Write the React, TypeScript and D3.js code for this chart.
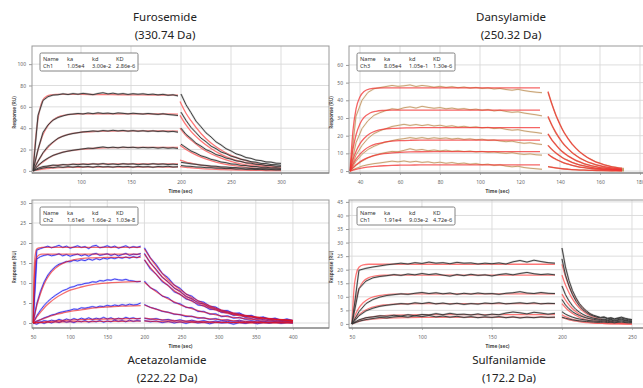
import * as d3 from "d3";
import { useEffect, useRef } from "react";

const WIDTH = 643;
const HEIGHT = 388;

const compounds = ["Furosemide", "Dansylamide", "Acetazolamide", "Sulfanilamide"];
const masses = ["(330.74 Da)", "(250.32 Da)", "(222.22 Da)", "(172.2 Da)"];
const legendHeader = ["Name", "ka", "kd", "KD"];
const legendRows = [
  ["Ch1", "1.05e4", "3.00e-2", "2.86e-6"],
  ["Ch3", "8.05e4", "1.05e-1", "1.30e-6"],
  ["Ch2", "1.61e6", "1.66e-2", "1.03e-8"],
  ["Ch1", "1.91e4", "9.03e-2", "4.72e-6"],
];

// tick labels
const furoXTicks = [100, 150, 200, 250, 300];
const furoYTicks = [0, 20, 40, 60, 80, 100];
const dansXTicks = [40, 60, 80, 100, 120, 140, 160, 180];
const dansYTicks = [0, 10, 20, 30, 40, 50, 60];
const acetXTicks = [50, 100, 150, 200, 250, 300, 350, 400];
const acetYTicks = [0, 5, 10, 15, 20, 25, 30];
const sulfXTicks = [50, 100, 150, 200, 250];
const sulfYTicks = [0, 5, 10, 15, 20, 25, 30, 35, 40, 45];

// ---------- Furosemide ----------
const furoFitAT = [52, 54, 56, 58, 60, 62, 66, 70, 75, 80, 90, 100, 115, 130, 160, 197];
const furoFitA = [
  [0, 24, 42, 54, 62, 66.5, 70, 71.2, 71.6, 71.7, 71.7, 71.6, 71.5, 71.4, 71.2, 71],
  [0, 8, 16, 23, 29, 34, 41, 46, 49.5, 51.5, 53, 53.4, 53.5, 53.5, 53.4, 53.2],
  [0, 4, 7.5, 10.5, 13.5, 16.5, 21, 25, 29, 31.8, 34.8, 36.2, 37, 37.3, 37.4, 37.3],
  [0, 2, 3.8, 5.4, 7, 8.4, 11, 13.2, 15.4, 17, 19, 20.2, 21.2, 21.7, 22, 22],
  [0, 0.8, 1.5, 2.1, 2.7, 3.2, 4, 4.6, 5.2, 5.6, 6.1, 6.3, 6.5, 6.5, 6.5, 6.5],
  [0, 0.4, 0.8, 1.1, 1.4, 1.7, 2.2, 2.5, 2.8, 3, 3.3, 3.4, 3.5, 3.5, 3.5, 3.5],
];
const furoFitDT = [199, 205, 210, 220, 230, 240, 250, 260, 270, 280, 290, 300];
const furoFitD = [
  [65, 54, 47, 35, 26, 19.5, 14.5, 11, 8.2, 6, 4.5, 3.3],
  [52, 43, 37, 28, 21, 15.5, 11.5, 8.6, 6.4, 4.8, 3.5, 2.6],
  [40, 33, 29, 21.5, 16, 12, 9, 6.6, 4.9, 3.7, 2.7, 2],
  [24, 20, 17.3, 12.8, 9.5, 7, 5.3, 3.9, 2.9, 2.2, 1.6, 1.2],
  [10, 8.3, 7.2, 5.3, 4, 2.9, 2.2, 1.6, 1.2, 0.9, 0.7, 0.5],
  [4, 3.3, 2.9, 2.1, 1.6, 1.2, 0.9, 0.7, 0.5, 0.4, 0.3, 0.2],
];
const furoObsAT = d3.range(52, 198, 5);
const furoObsA = [
  [0, 52, 66, 69.5, 71, 71.3, 72.2, 71.5, 72.4, 71.8, 72.6, 72, 71.4, 72.5, 73.2, 72.1, 72.8, 71.9, 72.4, 71.6, 72.3, 71.8, 72.2, 71.5, 71.9, 71.2, 71.7, 70.8, 71.3, 70.2],
  [0, 20, 36, 43, 47.5, 50, 51.5, 52.8, 53.2, 53.8, 53.3, 54.2, 53.6, 54.4, 53.8, 54.1, 53.5, 54.3, 53.9, 53.4, 54, 53.6, 53.2, 53.8, 53.3, 52.9, 53.5, 52.8, 52.4, 51.8],
  [0, 9, 17, 23, 27, 30.5, 32.5, 34, 35, 35.8, 36.5, 36.9, 37.4, 37, 37.8, 37.3, 38, 37.4, 37.9, 37.2, 37.7, 37.1, 37.6, 37, 37.5, 36.9, 37.3, 36.6, 37, 36.2],
  [0, 5, 9, 12, 14.5, 16, 17.5, 18.5, 19.3, 20, 20.6, 21.3, 21, 21.8, 22.4, 21.7, 22.2, 21.6, 22.3, 21.8, 22.1, 21.5, 22, 21.6, 21.9, 21.3, 21.8, 21.2, 21.6, 21],
  [0, 2.5, 4, 4.6, 5.4, 5.1, 5.9, 5.5, 6.3, 5.8, 6.4, 5.9, 6.6, 6.1, 6.8, 6, 6.5, 5.9, 6.7, 6.2, 6.6, 5.8, 6.4, 6, 6.7, 6.1, 6.5, 5.9, 6.3, 5.8],
  [0, 1.5, 2.6, 3.4, 3, 3.8, 3.3, 4, 3.5, 4.2, 3.6, 4.1, 3.4, 4.3, 3.7, 4, 3.5, 4.2, 3.8, 4.1, 3.5, 4.2, 3.7, 4, 3.4, 4.1, 3.8, 4.3, 3.6, 3.9],
];
const furoObsDT = d3.range(200, 301, 5);
const furoObsD = [
  [72, 62, 54.5, 46.6, 41.3, 35.6, 31.8, 27.2, 24.3, 20.8, 18.7, 16, 14.6, 12.5, 11.7, 10.1, 9.6, 8.4, 8.2, 7.2, 7],
  [55, 47.3, 40.7, 35.8, 30.7, 27.3, 23.2, 20.8, 17.7, 16.1, 13.8, 12.5, 10.8, 10, 8.6, 8.1, 7, 6.8, 5.9, 5.8, 5.2],
  [40, 34.2, 30.3, 25.9, 23.2, 19.9, 18, 15.3, 14, 12, 11, 9.4, 8.8, 7.5, 7.2, 6.1, 5.9, 5, 5, 4.3, 4.2],
  [25, 21.8, 18.6, 16.6, 14.1, 12.7, 10.8, 9.8, 8.3, 7.7, 6.5, 6.2, 5.1, 5, 4.1, 4.1, 3.3, 3.4, 2.7, 2.9, 2.4],
  [8, 7.3, 6.6, 6.1, 5.4, 5.1, 4.5, 4.3, 3.7, 3.6, 3.1, 3.1, 2.6, 2.7, 2.2, 2.3, 1.9, 2, 1.6, 1.8, 1.5],
  [5, 4.4, 4.2, 3.6, 3.5, 3, 3, 2.5, 2.5, 2.1, 2.2, 1.7, 1.9, 1.4, 1.6, 1.2, 1.4, 1, 1.2, 0.9, 1],
];

// ---------- Dansylamide ----------
const dansFitAT = [35, 36.5, 38, 40, 42, 45, 48, 52, 56, 60, 65, 70, 80, 90, 110, 130];
const dansFitA = [
  [0, 23, 35, 42, 45, 46.5, 46.9, 47, 47, 47, 47, 47, 47, 47, 47, 47],
  [0, 12.4, 20.4, 26.8, 30.3, 32.8, 33.8, 34.3, 34.5, 34.5, 34.5, 34.5, 34.5, 34.5, 34.5, 34.5],
  [0, 6.4, 11, 15.5, 18.4, 21.2, 22.7, 23.7, 24.1, 24.3, 24.4, 24.5, 24.5, 24.5, 24.5, 24.5],
  [0, 3.7, 6.7, 9.6, 11.8, 14, 15.3, 16.3, 16.9, 17.2, 17.4, 17.5, 17.5, 17.5, 17.5, 17.5],
  [0, 2, 3.5, 5.3, 6.6, 8, 9, 9.8, 10.3, 10.6, 10.8, 10.9, 11, 11, 11, 11],
  [0, 0.56, 1, 1.5, 1.9, 2.4, 2.7, 3, 3.2, 3.3, 3.4, 3.45, 3.5, 3.5, 3.5, 3.5],
];
const dansFitDT = [134, 136, 138, 141, 144, 148, 152, 156, 160, 165, 171];
const dansFitD = [
  [45, 37.6, 31.5, 23.9, 18.4, 12.8, 8.9, 6.2, 4.3, 2.7, 1.6],
  [31, 25.9, 21.7, 16.5, 12.7, 8.8, 6.1, 4.3, 3, 1.9, 1.1],
  [21, 17.5, 14.7, 11.1, 8.6, 6, 4.2, 2.9, 2, 1.3, 0.8],
  [14.5, 12.1, 10.2, 7.7, 5.9, 4.1, 2.9, 2, 1.4, 0.9, 0.5],
  [9.5, 7.9, 6.7, 5, 3.9, 2.7, 1.9, 1.3, 0.9, 0.6, 0.3],
  [2.5, 2.1, 1.75, 1.3, 1, 0.7, 0.5, 0.35, 0.24, 0.15, 0.09],
];
const dansObsAT = d3.range(35, 132, 3);
const dansObsA = [
  [0, 31, 40, 44.5, 46.5, 47.2, 47.8, 48.4, 47.9, 48.2, 48.7, 47.8, 48.4, 48, 47.4, 47.9, 47.3, 47.7, 47.1, 47.5, 46.9, 47.3, 46.7, 47, 46.4, 46.7, 46.1, 45.7, 46.2, 45.5, 45, 44.6, 44.3],
  [0, 16, 24, 28.5, 31.5, 33, 34.2, 35.2, 34.8, 35.8, 36.3, 35.6, 36.6, 36, 35.5, 35.9, 35.2, 35.6, 35, 35.3, 34.7, 35, 34.4, 34.8, 34, 34.4, 33.7, 33.2, 33.5, 32.8, 32.3, 31.8, 31.2],
  [0, 9, 14.5, 18.5, 21.2, 22.8, 24, 25.2, 25.8, 26.4, 25.8, 26.3, 25.7, 26.2, 25.5, 25.9, 25.2, 25.6, 24.9, 25.3, 24.7, 25, 24.4, 24.7, 24, 24.3, 23.6, 23.1, 23.4, 22.7, 22.2, 21.8, 21.3],
  [0, 5.5, 9.5, 12.2, 14, 15.4, 16.4, 17.2, 17.9, 18.3, 18.9, 18.4, 18.9, 18.3, 18.8, 18.4, 18.7, 18.1, 18.5, 17.9, 18.2, 17.7, 18, 17.4, 17.6, 17, 16.6, 16.9, 16.2, 15.7, 16, 15.4, 15],
  [0, 3.2, 5.6, 7.5, 8.8, 9.8, 10.5, 11.1, 10.9, 11.7, 12.6, 11.8, 12.2, 11.5, 11.9, 11.4, 11.8, 11.2, 11.5, 11, 11.3, 10.8, 11.1, 10.6, 10.8, 10.3, 10, 10.4, 9.8, 9.4, 9.7, 9.2, 9],
  [0, 1.5, 2.8, 3.6, 4.2, 4.6, 5.1, 5.6, 5.2, 5.7, 5.1, 5.5, 4.9, 5.2, 4.6, 5, 4.4, 4.8, 4.2, 4.5, 3.9, 4.2, 3.6, 3.9, 3.2, 3.5, 2.8, 2.4, 2.7, 2, 1.6, 1.3, 1],
];
const dansObsDT = d3.range(134, 173, 2);
const dansObsD = [
  [44.5, 37.8, 31.2, 26.4, 21.8, 18.5, 15.2, 12.9, 10.6, 9.1, 7.4, 6.4, 5.1, 4.5, 3.5, 3.1, 2.4, 2.2, 1.6, 1.5],
  [30.5, 25.6, 21.1, 17.9, 14.7, 12.6, 10.2, 8.8, 7.1, 6.2, 4.9, 4.3, 3.4, 3, 2.3, 2.1, 1.6, 1.5, 1.1, 1],
  [21, 17.4, 14.8, 12.1, 10.4, 8.4, 7.3, 5.8, 5.1, 4, 3.6, 2.8, 2.5, 1.9, 1.8, 1.3, 1.3, 0.9, 0.9, 0.7],
  [14.5, 12.2, 10, 8.6, 7, 6.1, 4.9, 4.2, 3.4, 3, 2.3, 2.1, 1.6, 1.5, 1.1, 1.1, 0.8, 0.8, 0.5, 0.5],
  [9.5, 8, 6.5, 5.6, 4.5, 4, 3.2, 2.8, 2.2, 2, 1.5, 1.4, 1, 1, 0.7, 0.7, 0.5, 0.5, 0.3, 0.3],
  [2.5, 2.2, 1.7, 1.5, 1.2, 1.1, 0.8, 0.8, 0.6, 0.6, 0.4, 0.4, 0.3, 0.3, 0.2, 0.2, 0.1, 0.2, 0.1, 0.1],
];

// ---------- Acetazolamide ----------
const acetFitAT = [50, 51.5, 53, 55, 58, 62, 67, 73, 80, 90, 100, 115, 130, 150, 170, 195];
const acetFitA = [
  [0, 13, 17, 18.5, 18.8, 18.9, 18.9, 18.9, 18.9, 18.9, 18.9, 18.9, 18.9, 18.9, 18.9, 18.9],
  [0, 10, 14.5, 16.4, 17, 17.2, 17.2, 17.2, 17.2, 17.2, 17.2, 17.2, 17.2, 17.2, 17.2, 17.2],
  [0, 1.4, 2.7, 4.3, 6.2, 8.4, 10.5, 12.3, 13.7, 14.9, 15.6, 16.1, 16.3, 16.4, 16.4, 16.4],
  [0, 0.5, 0.9, 1.5, 2.2, 3.1, 4.2, 5.2, 6.2, 7.3, 8.2, 9, 9.6, 10, 10.2, 10.4],
  [0, 0.14, 0.27, 0.44, 0.68, 0.98, 1.3, 1.7, 2.1, 2.5, 2.9, 3.3, 3.7, 4, 4.2, 4.35],
  [0, 0.03, 0.06, 0.1, 0.16, 0.23, 0.32, 0.41, 0.5, 0.62, 0.71, 0.83, 0.92, 1, 1.06, 1.11],
  [0, 0.01, 0.03, 0.04, 0.07, 0.1, 0.13, 0.17, 0.21, 0.26, 0.3, 0.35, 0.38, 0.42, 0.44, 0.46],
];
const acetFitDT = [200, 210, 220, 230, 240, 250, 260, 280, 300, 320, 340, 360, 400];
const acetFitD = [
  [18.5, 15.7, 13.3, 11.2, 9.5, 8.1, 6.8, 4.9, 3.5, 2.5, 1.8, 1.3, 0.7],
  [17.2, 14.6, 12.3, 10.5, 8.9, 7.5, 6.3, 4.6, 3.3, 2.3, 1.7, 1.2, 0.6],
  [15.8, 13.4, 11.3, 9.6, 8.1, 6.9, 5.8, 4.2, 3, 2.1, 1.5, 1.1, 0.6],
  [10.2, 8.6, 7.3, 6.2, 5.3, 4.4, 3.8, 2.7, 1.9, 1.4, 1, 0.7, 0.4],
  [4.5, 3.8, 3.2, 2.7, 2.3, 2, 1.7, 1.2, 0.9, 0.6, 0.4, 0.3, 0.2],
  [1.2, 1, 0.86, 0.73, 0.62, 0.52, 0.44, 0.32, 0.23, 0.16, 0.12, 0.08, 0.04],
  [0.5, 0.42, 0.36, 0.3, 0.26, 0.22, 0.18, 0.13, 0.1, 0.07, 0.05, 0.03, 0.02],
];
const acetObsAT = d3.range(50, 196, 5);
const acetObsA = [
  [0, 18.2, 18.6, 18.9, 19.2, 18.8, 19.1, 19.4, 18.9, 19.2, 18.7, 19, 19.3, 18.9, 19.1, 18.6, 19.2, 19.4, 18.8, 19, 19.3, 18.9, 19.2, 18.7, 19, 19.3, 18.8, 19.1, 18.9, 19.2],
  [0, 16, 16.6, 16.9, 17.1, 16.8, 17, 17.3, 16.8, 17.1, 16.7, 17, 17.2, 16.8, 17.1, 16.7, 17.2, 17.4, 16.9, 17.1, 17.3, 16.9, 17.2, 16.8, 17.1, 17.4, 16.9, 17.2, 17.1, 17.4],
  [0, 4.8, 7.9, 10.3, 12, 13.2, 14.1, 14.7, 15, 15.4, 15.3, 15.7, 15.5, 15.8, 15.6, 16, 15.7, 16.1, 15.8, 16.2, 16, 16.3, 16.1, 16.4, 16.2, 16.5, 16.2, 16.6, 16.3, 16.8],
  [0, 1.8, 3.2, 4.4, 5.4, 6.2, 6.9, 7.5, 8.1, 8.4, 8.9, 9.1, 9.5, 9.6, 9.9, 10, 10.3, 10.2, 10.6, 10.5, 10.8, 10.7, 11, 10.8, 10.7, 10.9, 10.6, 10.5, 10.3, 10.4],
  [0, 0.5, 0.8, 1.3, 1.6, 2, 2.2, 2.6, 2.8, 3, 3.2, 3.5, 3.4, 3.8, 3.7, 3.9, 4.1, 3.9, 4.2, 4.1, 4.4, 4.2, 4.5, 4.3, 4.6, 4.4, 4.7, 4.5, 4.6, 5],
  [0, 0.3, 0.2, 0.6, 0.4, 0.7, 0.5, 0.9, 0.6, 1, 0.7, 1.1, 0.8, 1.2, 0.9, 1.3, 0.9, 1.2, 1, 1.4, 1, 1.3, 0.9, 1.2, 1, 1.4, 1.1, 1.3, 1, 1.2],
  [0, -0.3, 0.2, -0.1, 0.3, 0, 0.4, 0.1, 0.5, 0.2, 0.4, 0.1, 0.5, 0.3, 0.6, 0.2, 0.5, 0.3, 0.6, 0.2, 0.5, 0.3, 0.7, 0.4, 0.6, 0.3, 0.7, 0.4, 0.6, 0.5],
];
const acetObsDT = d3.range(200, 401, 8);
const acetObsD = [
  [18.8, 16.3, 14.6, 12.4, 11.3, 9.5, 8.7, 7.2, 6.7, 5.5, 5.2, 4.2, 4, 3.1, 3.1, 2.4, 2.5, 1.8, 1.9, 1.3, 1.5, 1, 1.2, 0.7, 1, 0.6],
  [17.4, 15, 13.4, 11.4, 10.3, 8.7, 8, 6.6, 6.1, 5, 4.8, 3.8, 3.7, 2.9, 2.9, 2.2, 2.3, 1.6, 1.8, 1.2, 1.4, 0.9, 1.1, 0.6, 0.9, 0.5],
  [15.8, 13.5, 12.2, 10.3, 9.4, 7.8, 7.2, 6, 5.6, 4.5, 4.3, 3.4, 3.4, 2.6, 2.6, 1.9, 2.1, 1.4, 1.6, 1, 1.3, 0.8, 1, 0.5, 0.8, 0.4],
  [10.5, 8.8, 8.1, 6.7, 6.3, 5.1, 4.8, 3.9, 3.8, 2.9, 2.9, 2.2, 2.3, 1.6, 1.8, 1.2, 1.4, 0.9, 1.1, 0.6, 0.9, 0.5, 0.7, 0.3, 0.6, 0.3],
  [4.6, 3.9, 3.5, 2.9, 2.7, 2.2, 2.1, 1.6, 1.7, 1.2, 1.3, 0.9, 1.1, 0.6, 0.8, 0.4, 0.7, 0.3, 0.6, 0.2, 0.5, 0.2, 0.4, 0.1, 0.4, 0.2],
  [1.2, 0.9, 1.1, 0.7, 0.9, 0.5, 0.8, 0.4, 0.7, 0.3, 0.6, 0.2, 0.5, 0.2, 0.4, 0.1, 0.4, 0, 0.3, 0.1, 0.3, 0, 0.2, 0.1, 0.2, 0],
  [0.6, 0.3, 0.5, 0.1, 0.4, 0, 0.3, -0.1, 0.3, 0, 0.2, -0.2, 0.2, 0, 0.1, -0.3, 0.1, -0.1, 0.2, -0.2, 0.1, 0, 0.2, -0.1, 0.1, 0],
];

// ---------- Sulfanilamide ----------
const sulfFitAT = [50, 51.5, 53, 55, 58, 62, 67, 73, 80, 90, 100, 120, 150, 195];
const sulfFitA = [
  [0, 13, 18.3, 20.9, 21.8, 22, 22, 22, 22, 22, 22, 22, 22, 22],
  [0, 5.6, 9.5, 12.8, 15.6, 17.1, 17.7, 17.95, 18, 18, 18, 18, 18, 18],
  [0, 2.2, 4, 5.9, 7.8, 9.3, 10.2, 10.7, 11, 11.1, 11.1, 11.1, 11.1, 11.1],
  [0, 1.2, 2.3, 3.4, 4.6, 5.7, 6.5, 7, 7.3, 7.45, 7.5, 7.5, 7.5, 7.5],
  [0, 0.5, 0.9, 1.3, 1.9, 2.4, 2.8, 3.1, 3.25, 3.35, 3.4, 3.4, 3.4, 3.4],
  [0, 0.33, 0.6, 0.9, 1.3, 1.6, 1.9, 2.1, 2.25, 2.35, 2.4, 2.4, 2.4, 2.4],
];
const sulfFitDT = [200, 202, 204, 207, 210, 214, 218, 223, 230, 240, 250];
const sulfFitD = [
  [22, 18.4, 15.4, 11.7, 9, 6.2, 4.4, 2.8, 1.5, 0.6, 0.2],
  [18, 15, 12.6, 9.6, 7.3, 5.1, 3.6, 2.3, 1.2, 0.5, 0.2],
  [11, 9.2, 7.7, 5.9, 4.5, 3.1, 2.2, 1.4, 0.7, 0.3, 0.1],
  [7.5, 6.3, 5.2, 4, 3.1, 2.1, 1.5, 0.9, 0.5, 0.2, 0.1],
  [3.4, 2.8, 2.4, 1.8, 1.4, 1, 0.7, 0.4, 0.2, 0.1, 0],
  [2.4, 2, 1.7, 1.3, 1, 0.7, 0.5, 0.3, 0.16, 0.06, 0.03],
];
const sulfObsAT = d3.range(50, 196, 5);
const sulfObsA = [
  [0, 19.8, 20.5, 21, 21.4, 21.8, 22.1, 22.4, 22.1, 22.6, 22.3, 22.8, 22.4, 22.6, 22.2, 22.7, 22.4, 22.5, 22.1, 22.4, 22.2, 22.5, 22.1, 22.9, 23.4, 22.8, 23.5, 23, 22.6, 22.4],
  [0, 13, 15.8, 17, 17.5, 17.8, 18.2, 17.9, 18.4, 18.1, 18.6, 18.2, 18.5, 18, 17.6, 18.2, 17.8, 18.3, 17.9, 18.1, 17.7, 18.2, 18.5, 18.1, 18.6, 19, 18.5, 18.2, 18.4, 18.1],
  [0, 4.5, 7.5, 9, 9.9, 10.5, 10.8, 11.1, 10.9, 11.3, 11.6, 11.2, 11.5, 11.1, 11.4, 10.9, 11.3, 11, 11.4, 11.1, 11.2, 10.9, 11.3, 11.5, 11.9, 11.4, 11.2, 11.6, 11.3, 11.2],
  [0, 3, 4.8, 5.8, 6.5, 6.9, 7.2, 7.5, 7.3, 7.8, 7.5, 7.9, 7.4, 7.7, 7.3, 7.6, 7.2, 7.5, 7.3, 7.7, 7.5, 7.8, 7.4, 7.6, 7.8, 7.5, 7.8, 7.4, 7.6, 7.5],
  [0, 1.5, 2.3, 2.6, 3, 2.8, 3.2, 2.9, 3.4, 3, 3.5, 3.3, 3.8, 3.4, 3.9, 3.5, 3.6, 3.3, 3.7, 3.2, 3.6, 3.4, 4, 4.4, 4.1, 3.7, 4.3, 4, 3.6, 3.9],
  [0, 1, 1.6, 2, 2.4, 2.2, 2.6, 2.8, 2.5, 3, 2.7, 3.1, 2.6, 2.9, 2.5, 2.8, 2.4, 2.7, 2.3, 2.6, 2.4, 2.7, 2.3, 2.6, 2.2, 2.5, 2.3, 2.6, 2.4, 2.5],
];
const sulfObsDT = d3.range(200, 251, 2.5);
const sulfObsD = [
  [28, 21, 16, 12.3, 9.6, 7.5, 6, 4.8, 3.8, 3.2, 2.8, 2.4, 2.6, 2.1, 2.3, 1.9, 2.2, 2.5, 2.1, 1.8, 1.6],
  [24, 18, 14, 10.8, 8.4, 6.6, 5.2, 4.2, 3.4, 2.9, 2.5, 2.2, 2.4, 1.9, 2.1, 1.7, 2, 2.2, 1.8, 1.6, 1.4],
  [14, 10.8, 8.5, 6.7, 5.3, 4.3, 3.5, 2.9, 2.5, 2.1, 1.9, 1.6, 1.8, 1.5, 1.7, 1.3, 1.6, 1.8, 1.4, 1.2, 1.1],
  [9, 7, 5.6, 4.5, 3.7, 3.1, 2.6, 2.2, 1.9, 1.7, 1.5, 1.3, 1.5, 1.2, 1.4, 1.1, 1.3, 1.5, 1.2, 1, 0.9],
  [4.5, 3.6, 3, 2.5, 2.1, 1.8, 1.6, 1.4, 1.2, 1.1, 1, 0.9, 1.1, 0.8, 1, 0.7, 0.9, 1.1, 0.8, 0.7, 0.6],
  [2.5, 2.1, 1.8, 1.5, 1.3, 1.1, 1, 0.9, 0.8, 0.7, 0.6, 0.6, 0.7, 0.5, 0.6, 0.4, 0.6, 0.7, 0.5, 0.4, 0.4],
];

interface Panel {
  box: { l: number; t: number; r: number; b: number };
  xDomain: [number, number];
  yDomain: [number, number];
  xTicks: number[];
  yTicks: number[];
  titleX: number;
  titleY: number;
  fitAT: number[];
  fitA: number[][];
  fitDT: number[];
  fitD: number[][];
  obsAT: number[];
  obsA: number[][];
  obsDT: number[];
  obsD: number[][];
  obsColor: string;
  obsHalo: string;
  fitColor: string;
  fitOpacity: number;
  fitOnTop: boolean;
}

const PANELS: Panel[] = [
  {
    box: { l: 32, t: 46, r: 329, b: 173 },
    xDomain: [51, 348],
    yDomain: [-2, 117],
    xTicks: furoXTicks,
    yTicks: furoYTicks,
    titleX: 165,
    titleY: 16,
    fitAT: furoFitAT, fitA: furoFitA, fitDT: furoFitDT, fitD: furoFitD,
    obsAT: furoObsAT, obsA: furoObsA, obsDT: furoObsDT, obsD: furoObsD,
    obsColor: "#333", obsHalo: "#9a9a9a", fitColor: "#ff4a4a", fitOpacity: 0.75, fitOnTop: false,
  },
  {
    box: { l: 349, t: 46, r: 646, b: 173 },
    xDomain: [34.5, 183],
    yDomain: [-1.1, 70.7],
    xTicks: dansXTicks,
    yTicks: dansYTicks,
    titleX: 511,
    titleY: 16,
    fitAT: dansFitAT, fitA: dansFitA, fitDT: dansFitDT, fitD: dansFitD,
    obsAT: dansObsAT, obsA: dansObsA, obsDT: dansObsDT, obsD: dansObsD,
    obsColor: "#c29a66", obsHalo: "#ead8c0", fitColor: "#f23030", fitOpacity: 0.75, fitOnTop: true,
  },
  {
    box: { l: 32, t: 200, r: 329, b: 328 },
    xDomain: [48.6, 448.6],
    yDomain: [-1.25, 30.75],
    xTicks: acetXTicks,
    yTicks: acetYTicks,
    titleX: 167,
    titleY: 359,
    fitAT: acetFitAT, fitA: acetFitA, fitDT: acetFitDT, fitD: acetFitD,
    obsAT: acetObsAT, obsA: acetObsA, obsDT: acetObsDT, obsD: acetObsD,
    obsColor: "#3030ee", obsHalo: "#9090ff", fitColor: "#ee1010", fitOpacity: 0.6, fitOnTop: true,
  },
  {
    box: { l: 349, t: 200, r: 646, b: 328 },
    xDomain: [47.9, 260],
    yDomain: [-1.5, 45.7],
    xTicks: sulfXTicks,
    yTicks: sulfYTicks,
    titleX: 509,
    titleY: 359,
    fitAT: sulfFitAT, fitA: sulfFitA, fitDT: sulfFitDT, fitD: sulfFitD,
    obsAT: sulfObsAT, obsA: sulfObsA, obsDT: sulfObsDT, obsD: sulfObsD,
    obsColor: "#333", obsHalo: "#9a9a9a", fitColor: "#ff4a4a", fitOpacity: 0.75, fitOnTop: false,
  },
];

const SANS = "'Noto Sans', 'Open Sans', sans-serif";

function pairs(ts: number[], vs: number[]): [number, number][] {
  return vs.map((v, i) => [ts[i], v] as [number, number]).filter((d) => d[0] !== undefined);
}

export default function App() {
  const ref = useRef<SVGSVGElement>(null);

  useEffect(() => {
    if (!ref.current) return;
    const svg = d3.select(ref.current);
    svg.selectAll("*").remove();

    svg.append("rect").attr("width", WIDTH).attr("height", HEIGHT).attr("fill", "#fff");

    PANELS.forEach((p, idx) => {
      const { l, t, r, b } = p.box;
      const x = d3.scaleLinear().domain(p.xDomain).range([l, r]);
      const y = d3.scaleLinear().domain(p.yDomain).range([b, t]);
      const g = svg.append("g");

      const clipId = `clip-${idx}`;
      g.append("clipPath")
        .attr("id", clipId)
        .append("rect")
        .attr("x", l)
        .attr("y", t)
        .attr("width", r - l)
        .attr("height", b - t);

      // grid
      g.append("g")
        .selectAll("line")
        .data(p.xTicks)
        .join("line")
        .attr("x1", (d) => x(d))
        .attr("x2", (d) => x(d))
        .attr("y1", t)
        .attr("y2", b)
        .attr("stroke", "#d9d9d9")
        .attr("stroke-width", 0.9);
      g.append("g")
        .selectAll("line")
        .data(p.yTicks)
        .join("line")
        .attr("x1", l)
        .attr("x2", r)
        .attr("y1", (d) => y(d))
        .attr("y2", (d) => y(d))
        .attr("stroke", "#d9d9d9")
        .attr("stroke-width", 0.9);

      // axes
      const xa = g
        .append("g")
        .attr("transform", `translate(0,${b})`)
        .call(d3.axisBottom(x).tickValues(p.xTicks).tickSize(2).tickPadding(5));
      xa.select(".domain").remove();
      xa.attr("font-size", 5).attr("font-family", SANS);
      xa.selectAll("line").attr("stroke", "#bbb");
      xa.selectAll("text").attr("fill", "#666");

      const ya = g
        .append("g")
        .attr("transform", `translate(${l},0)`)
        .call(d3.axisLeft(y).tickValues(p.yTicks).tickSize(3).tickPadding(3));
      ya.select(".domain").remove();
      ya.attr("font-size", 5).attr("font-family", SANS);
      ya.selectAll("line").attr("stroke", "#999");
      ya.selectAll("text").attr("fill", "#666");

      // curves
      const plot = g.append("g").attr("clip-path", `url(#${clipId})`);
      const obsLine = d3
        .line<[number, number]>()
        .x((d) => x(d[0]))
        .y((d) => y(d[1]));
      const fitLine = d3
        .line<[number, number]>()
        .x((d) => x(d[0]))
        .y((d) => y(d[1]))
        .curve(d3.curveMonotoneX);

      const obsSeries = [
        ...p.obsA.map((vs) => pairs(p.obsAT, vs)),
        ...p.obsD.map((vs) => pairs(p.obsDT, vs)),
      ];
      const fitSeries = [
        ...p.fitA.map((vs) => pairs(p.fitAT, vs)),
        ...p.fitD.map((vs) => pairs(p.fitDT, vs)),
      ];

      const drawObs = () => {
        plot
          .append("g")
          .selectAll("path")
          .data(obsSeries)
          .join("path")
          .attr("d", obsLine)
          .attr("fill", "none")
          .attr("stroke", p.obsHalo)
          .attr("stroke-width", 2)
          .attr("stroke-opacity", 0.45);
        plot
          .append("g")
          .selectAll("path")
          .data(obsSeries)
          .join("path")
          .attr("d", obsLine)
          .attr("fill", "none")
          .attr("stroke", p.obsColor)
          .attr("stroke-width", 0.9);
      };
      const drawFit = () => {
        plot
          .append("g")
          .selectAll("path")
          .data(fitSeries)
          .join("path")
          .attr("d", fitLine)
          .attr("fill", "none")
          .attr("stroke", p.fitColor)
          .attr("stroke-width", 1.3)
          .attr("stroke-opacity", p.fitOpacity);
      };
      if (p.fitOnTop) {
        drawObs();
        drawFit();
      } else {
        drawFit();
        drawObs();
      }

      // frame
      g.append("rect")
        .attr("x", l)
        .attr("y", t)
        .attr("width", r - l)
        .attr("height", b - t)
        .attr("fill", "none")
        .attr("stroke", "#999")
        .attr("stroke-width", 1);
      g.append("line")
        .attr("x1", l)
        .attr("x2", r)
        .attr("y1", b)
        .attr("y2", b)
        .attr("stroke", "#777")
        .attr("stroke-width", 1.2);

      // legend
      const lg = g.append("g").attr("transform", `translate(${l + 8},${t + 7})`);
      lg.append("rect")
        .attr("width", 98)
        .attr("height", 18)
        .attr("rx", 1.5)
        .attr("fill", "#fff")
        .attr("stroke", "#666")
        .attr("stroke-width", 0.8);
      const colX = [3, 27, 52, 76];
      [legendHeader, legendRows[idx]].forEach((row, ri) => {
        lg.selectAll(null)
          .data(row)
          .join("text")
          .attr("x", (_, i) => colX[i])
          .attr("y", 7.5 + ri * 7)
          .attr("font-size", 5.6)
          .attr("font-family", SANS)
          .attr("fill", "#333")
          .text((d) => d);
      });

      // axis titles
      g.append("text")
        .attr("x", (l + Math.min(r, WIDTH + 3)) / 2)
        .attr("y", b + 20)
        .attr("text-anchor", "middle")
        .attr("font-size", 4.8)
        .attr("font-weight", 700)
        .attr("font-family", SANS)
        .attr("fill", "#444")
        .text("Time (sec)");
      g.append("text")
        .attr("transform", `translate(${l - 16},${(t + b) / 2 + 3}) rotate(-90)`)
        .attr("text-anchor", "middle")
        .attr("font-size", 4.6)
        .attr("font-weight", 700)
        .attr("font-family", SANS)
        .attr("fill", "#444")
        .text("Response (RU)");

      // compound title
      [compounds[idx], masses[idx]].forEach((line, li) => {
        svg
          .append("text")
          .attr("x", p.titleX)
          .attr("y", p.titleY + li * 18)
          .attr("text-anchor", "middle")
          .attr("dominant-baseline", "central")
          .attr("font-size", 11.5)
          .attr("font-family", SANS)
          .attr("fill", "#222")
          .text(line);
      });
    });
  }, []);

  return (
    <div style={{ position: "absolute", left: 0, top: 0 }}>
      <svg ref={ref} width={WIDTH} height={HEIGHT} style={{ display: "block" }} />
    </div>
  );
}
